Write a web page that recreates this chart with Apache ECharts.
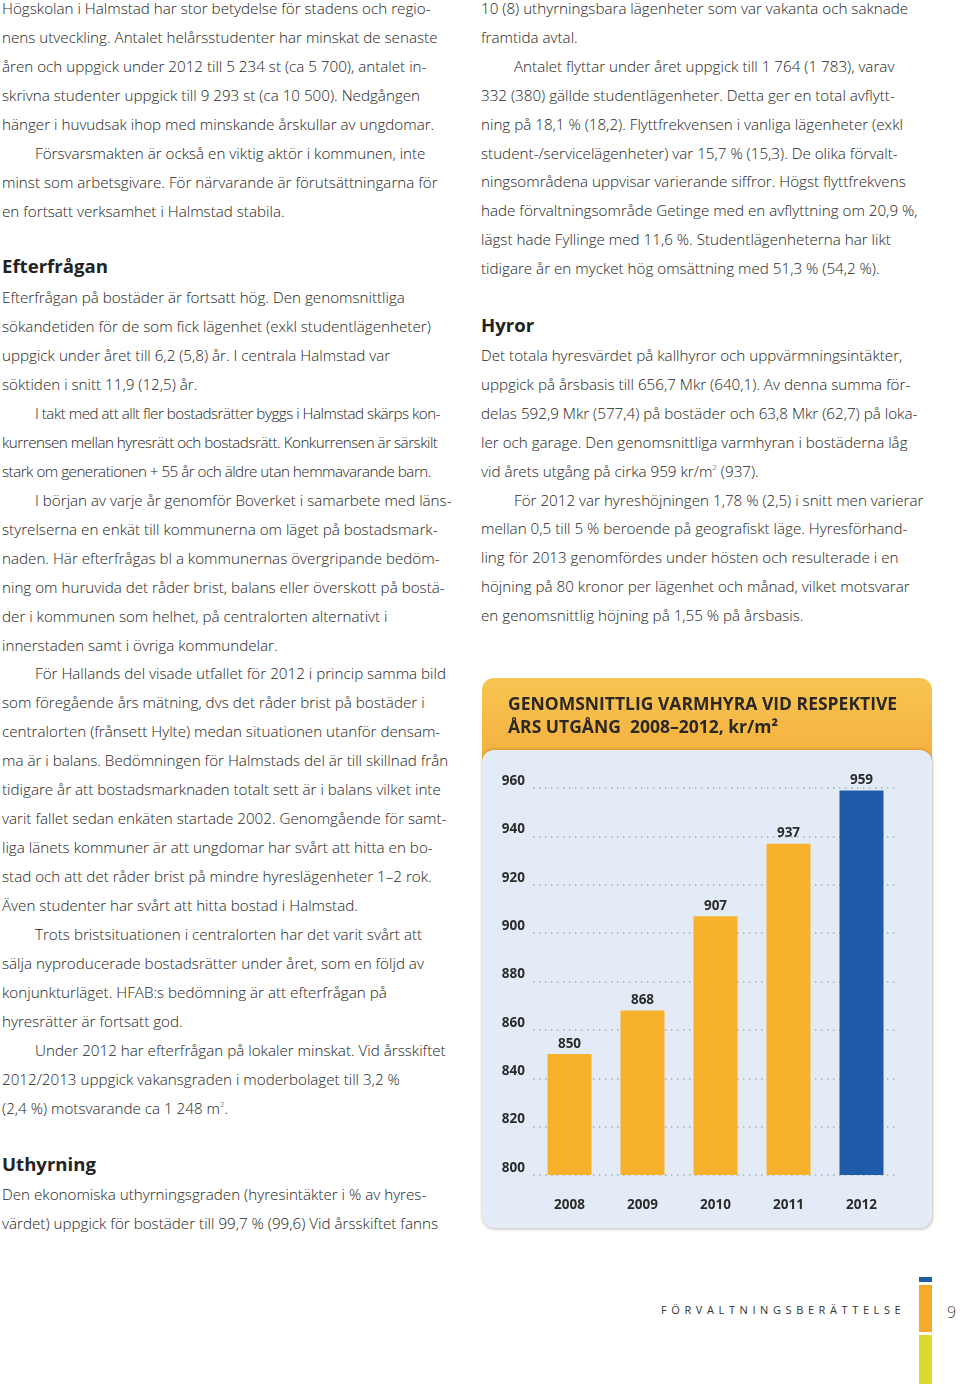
<!DOCTYPE html>
<html lang="sv">
<head>
<meta charset="utf-8">
<script src="https://cdn.jsdelivr.net/npm/echarts@6/dist/echarts.min.js"></script>
<style>
  html, body { margin: 0; padding: 0; background: #fff; }
  body { width: 960px; height: 1384px; position: relative; overflow: hidden; }
  .ln { position: absolute; white-space: nowrap; font-family: "Open Sans", "Noto Sans", sans-serif; font-weight: 300; font-size: 15.2px; line-height: 20px; color: #1e1e1e; }
  .ln sup { font-size: 8px; line-height: 0; position: relative; top: -1px; }
  .hd { position: absolute; white-space: nowrap; font-family: "Open Sans", "Noto Sans", sans-serif; font-weight: 700; font-size: 18.6px; line-height: 24px; color: #222; }
  .cond { letter-spacing: -0.5px; }
  #hdr { position: absolute; left: 482px; top: 678px; width: 450px; height: 90px; border-radius: 12px 12px 0 0; background: linear-gradient(#F9C552, #F3AD3C); }
  #panel { position: absolute; left: 482px; top: 750px; width: 450px; height: 478px; border-radius: 12px; background: #E3ECF6; box-shadow: 0 -1px 3px rgba(160,100,0,0.35), 1px 2px 3px rgba(0,0,0,0.16); }
  #chart { position: absolute; left: 480px; top: 676px; width: 455px; height: 556px; }
  #foot { position: absolute; left: 661px; top: 1302px; font-family: "Open Sans", "Noto Sans", sans-serif; font-size: 11px; letter-spacing: 4.6px; color: #333; white-space: nowrap; line-height: 16px; }
  #pg { position: absolute; left: 947px; top: 1301px; font-family: "Open Sans", "Noto Sans", sans-serif; font-weight: 300; font-size: 16px; color: #444; line-height: 22px; }
  .strip { position: absolute; left: 919px; width: 13px; }
</style>
</head>
<body>
<div id="text"></div>
<div id="hdr"></div>
<div id="panel"></div>
<div id="chart"></div>
<div id="foot">FÖRVALTNINGSBERÄTTELSE</div>
<div id="pg">9</div>
<div class="strip" style="top:1277px;height:5px;background:#1E5BA9"></div>
<div class="strip" style="top:1285px;height:47px;background:#F6AA2A"></div>
<div class="strip" style="top:1335px;height:49px;background:#DCDA2F"></div>
<script>
// ---- chart data ----
const years = ['2008', '2009', '2010', '2011', '2012'];
const rents = [850, 868, 907, 937, 959];
const highlightYear = '2012';
const yMin = 800, yMax = 960, yStep = 20;
const chartTitle = 'GENOMSNITTLIG VARMHYRA VID RESPEKTIVE\nÅRS UTGÅNG  2008–2012, kr/m²';

// ---- page text (lines as in the printed page) ----
// [text, indent, condensed]
const blockA = [
  ['Högskolan i Halmstad har stor betydelse för stadens och regio-'],
  ['nens utveckling. Antalet helårsstudenter har minskat de senaste'],
  ['åren och uppgick under 2012 till 5 234 st (ca 5 700), antalet in-'],
  ['skrivna studenter uppgick till 9 293 st (ca 10 500). Nedgången'],
  ['hänger i huvudsak ihop med minskande årskullar av ungdomar.'],
  ['Försvarsmakten är också en viktig aktör i kommunen, inte', 1],
  ['minst som arbetsgivare. För närvarande är förutsättningarna för'],
  ['en fortsatt verksamhet i Halmstad stabila.']
];
const blockB = [
  ['Efterfrågan på bostäder är fortsatt hög. Den genomsnittliga'],
  ['sökandetiden för de som fick lägenhet (exkl studentlägenheter)'],
  ['uppgick under året till 6,2 (5,8) år. I centrala Halmstad var'],
  ['söktiden i snitt 11,9 (12,5) år.'],
  ['I takt med att allt fler bostadsrätter byggs i Halmstad skärps kon-', 1, 1],
  ['kurrensen mellan hyresrätt och bostadsrätt. Konkurrensen är särskilt', 0, 1],
  ['stark om generationen + 55 år och äldre utan hemmavarande barn.', 0, 1],
  ['I början av varje år genomför Boverket i samarbete med läns-', 1],
  ['styrelserna en enkät till kommunerna om läget på bostadsmark-'],
  ['naden. Här efterfrågas bl a kommunernas övergripande bedöm-'],
  ['ning om huruvida det råder brist, balans eller överskott på bostä-'],
  ['der i kommunen som helhet, på centralorten alternativt i'],
  ['innerstaden samt i övriga kommundelar.'],
  ['För Hallands del visade utfallet för 2012 i princip samma bild', 1],
  ['som föregående års mätning, dvs det råder brist på bostäder i'],
  ['centralorten (frånsett Hylte) medan situationen utanför densam-'],
  ['ma är i balans. Bedömningen för Halmstads del är till skillnad från'],
  ['tidigare år att bostadsmarknaden totalt sett är i balans vilket inte'],
  ['varit fallet sedan enkäten startade 2002. Genomgående för samt-'],
  ['liga länets kommuner är att ungdomar har svårt att hitta en bo-'],
  ['stad och att det råder brist på mindre hyreslägenheter 1–2 rok.'],
  ['Även studenter har svårt att hitta bostad i Halmstad.'],
  ['Trots bristsituationen i centralorten har det varit svårt att', 1],
  ['sälja nyproducerade bostadsrätter under året, som en följd av'],
  ['konjunkturläget. HFAB:s bedömning är att efterfrågan på'],
  ['hyresrätter är fortsatt god.'],
  ['Under 2012 har efterfrågan på lokaler minskat. Vid årsskiftet', 1],
  ['2012/2013 uppgick vakansgraden i moderbolaget till 3,2 %'],
  ['(2,4 %) motsvarande ca 1 248 m<sup>2</sup>.']
];
const blockC = [
  ['Den ekonomiska uthyrningsgraden (hyresintäkter i % av hyres-'],
  ['värdet) uppgick för bostäder till 99,7 % (99,6) Vid årsskiftet fanns']
];
const blockD = [
  ['10 (8) uthyrningsbara lägenheter som var vakanta och saknade'],
  ['framtida avtal.'],
  ['Antalet flyttar under året uppgick till 1 764 (1 783), varav', 1],
  ['332 (380) gällde studentlägenheter. Detta ger en total avflytt-'],
  ['ning på 18,1 % (18,2). Flyttfrekvensen i vanliga lägenheter (exkl'],
  ['student-/servicelägenheter) var 15,7 % (15,3). De olika förvalt-'],
  ['ningsområdena uppvisar varierande siffror. Högst flyttfrekvens'],
  ['hade förvaltningsområde Getinge med en avflyttning om 20,9 %,'],
  ['lägst hade Fyllinge med 11,6 %. Studentlägenheterna har likt'],
  ['tidigare år en mycket hög omsättning med 51,3 % (54,2 %).']
];
const blockE = [
  ['Det totala hyresvärdet på kallhyror och uppvärmningsintäkter,'],
  ['uppgick på årsbasis till 656,7 Mkr (640,1). Av denna summa för-'],
  ['delas 592,9 Mkr (577,4) på bostäder och 63,8 Mkr (62,7) på loka-'],
  ['ler och garage. Den genomsnittliga varmhyran i bostäderna låg'],
  ['vid årets utgång på cirka 959 kr/m<sup>2</sup> (937).'],
  ['För 2012 var hyreshöjningen 1,78 % (2,5) i snitt men varierar', 1],
  ['mellan 0,5 till 5 % beroende på geografiskt läge. Hyresförhand-'],
  ['ling för 2013 genomfördes under hösten och resulterade i en'],
  ['höjning på 80 kronor per lägenhet och månad, vilket motsvarar'],
  ['en genomsnittlig höjning på 1,55 % på årsbasis.']
];
const headings = [
  ['Efterfrågan', 2, 266],
  ['Uthyrning', 2, 1164],
  ['Hyror', 481, 325]
];

(function buildText() {
  const host = document.getElementById('text');
  function block(lines, x, y0, step) {
    lines.forEach((l, i) => {
      const d = document.createElement('div');
      d.className = 'ln' + (l[2] ? ' cond' : '');
      d.style.left = (x + (l[1] ? 33 : 0)) + 'px';
      d.style.top = (y0 + i * step - 10) + 'px';
      d.innerHTML = l[0];
      host.appendChild(d);
    });
  }
  block(blockA, 2, 8, 28.96);
  block(blockB, 2, 297, 28.96);
  block(blockC, 2, 1194, 29);
  block(blockD, 481, 8, 28.9);
  block(blockE, 481, 355, 28.9);
  headings.forEach(h => {
    const d = document.createElement('div');
    d.className = 'hd';
    d.style.left = h[1] + 'px';
    d.style.top = (h[2] - 12) + 'px';
    d.textContent = h[0];
    host.appendChild(d);
  });
})();

// ---- chart ----
const chart = echarts.init(document.getElementById('chart'), null, { renderer: 'canvas' });
const FONT = '"Open Sans", "Noto Sans", sans-serif';
chart.setOption({
  animation: false,
  backgroundColor: 'transparent',
  title: {
    text: chartTitle,
    left: 23,
    top: 13,
    textStyle: { fontFamily: FONT, fontWeight: 'bold', fontSize: 17.5, lineHeight: 23, color: '#2b2824' }
  },
  grid: { left: 53, right: 37, top: 112, bottom: 57 },
  xAxis: {
    type: 'category',
    data: years,
    axisLine: { show: false },
    axisTick: { show: false },
    axisLabel: { margin: 23, fontFamily: FONT, fontWeight: 'bold', fontSize: 13.5, color: '#2b2b2b' }
  },
  yAxis: {
    type: 'value',
    min: yMin,
    max: yMax,
    interval: yStep,
    axisLine: { show: false },
    axisTick: { show: false },
    axisLabel: { margin: 8, verticalAlign: 'bottom', fontFamily: FONT, fontWeight: 'bold', fontSize: 13.5, color: '#2b2b2b' },
    splitLine: { lineStyle: { type: [1.5, 4.5], color: '#A2AEBC', width: 1.5 } }
  },
  series: [{
    type: 'bar',
    barWidth: 44,
    data: rents.map((v, i) => ({
      value: v,
      itemStyle: { color: years[i] === highlightYear ? '#1E5BA9' : '#F8B12B' }
    })),
    label: { show: true, position: 'top', distance: 3, fontFamily: FONT, fontWeight: 'bold', fontSize: 13.5, color: '#2b2b2b' }
  }]
});
</script>
</body>
</html>
